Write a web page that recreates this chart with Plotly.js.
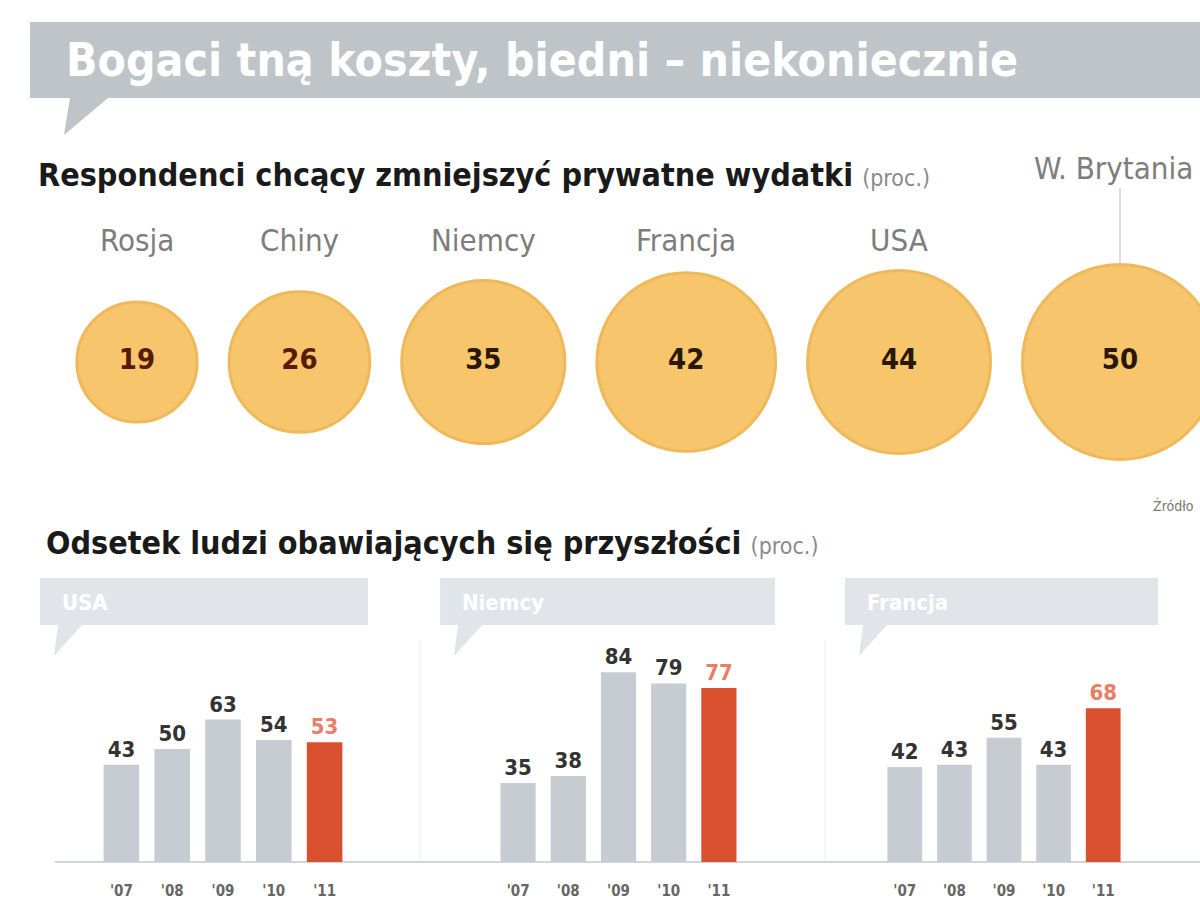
<!DOCTYPE html>
<html>
<head>
<meta charset="utf-8">
<script src="https://cdn.plot.ly/plotly-3.0.1.min.js"></script>
<style>
  html, body { margin: 0; padding: 0; background: #fff; overflow: hidden; }
  #chart { width: 1200px; height: 923px; }
</style>
</head>
<body>
<div id="chart"></div>
<script>
// top row: share of people who want to cut private spending (%)
const countries = ['Rosja', 'Chiny', 'Niemcy', 'Francja', 'USA', 'W. Brytania'];
const cutSpending = [19, 26, 35, 42, 44, 50];

// bottom row: share of people worried about the future (%)
const years = ["'07", "'08", "'09", "'10", "'11"];
const groupNames = ['USA', 'Niemcy', 'Francja'];
const fearA = [43, 50, 63, 54, 53];
const fearB = [35, 38, 84, 79, 77];
const fearC = [42, 43, 55, 43, 68];

const W = 1200, H = 923;
const px = x => x / W;
const py = y => 1 - y / H;
const poly = pts => 'M ' + pts.map(p => px(p[0]).toFixed(4) + ' ' + py(p[1]).toFixed(4)).join(' L ') + ' Z';

const NARROW = "'Liberation Sans Narrow', 'DejaVu Sans Condensed', 'Liberation Sans', sans-serif";
const GRAY_BAR = '#c6ccd2';
const RED_BAR = '#d9502f';

// bubbles sized by area (biggest one ~195px across), laid out with a fixed gap
const s0 = 50 / (195 * 195);
const diam = v => Math.sqrt(v / s0);
const bubbleX = [];
cutSpending.forEach((v, i) => {
  if (i === 0) bubbleX.push(137);
  else bubbleX.push(bubbleX[i - 1] + diam(cutSpending[i - 1]) / 2 + diam(v) / 2 + 32);
});

const traces = [{
  type: 'scatter',
  mode: 'markers+text',
  x: bubbleX,
  y: cutSpending.map(() => 0.5),
  text: cutSpending.map(String),
  textposition: 'middle center',
  textfont: { family: NARROW, size: 29, color: cutSpending.map(v => v < 30 ? '#5a1a08' : '#2a1805'), weight: 'bold' },
  marker: { size: cutSpending, sizemode: 'area', sizeref: 2 * s0, color: '#f6c56c', line: { color: '#efb95a', width: 3 }, opacity: 1 },
  cliponaxis: false,
  hoverinfo: 'skip',
  xaxis: 'x', yaxis: 'y'
}];

const groups = [fearA, fearB, fearC];
const barDomains = [[96, 350], [493, 744], [880, 1128]];
groups.forEach((vals, g) => {
  traces.push({
    type: 'bar',
    x: years,
    y: vals,
    text: vals.map(String),
    textposition: 'outside',
    textfont: { family: NARROW, size: 22, weight: 'bold', color: years.map((_, i) => i === years.length - 1 ? '#ea7d66' : '#333') },
    marker: { color: years.map((_, i) => i === years.length - 1 ? RED_BAR : GRAY_BAR) },
    cliponaxis: false,
    hoverinfo: 'skip',
    xaxis: 'x' + (g + 2),
    yaxis: 'y' + (g + 2)
  });
});

const layout = {
  width: W, height: H,
  margin: { l: 0, r: 0, t: 0, b: 0 },
  paper_bgcolor: '#fff', plot_bgcolor: 'rgba(0,0,0,0)',
  showlegend: false,
  bargap: 0.3,
  font: { family: NARROW },
  xaxis: { domain: [0, 1], range: [0, W], visible: false, fixedrange: true },
  yaxis: { domain: [py(480), py(244)], range: [0, 1], visible: false, fixedrange: true },
  shapes: [],
  annotations: []
};

barDomains.forEach((d, g) => {
  const n = g + 2;
  layout['xaxis' + n] = {
    type: 'category',
    domain: [px(d[0]), px(d[1])], anchor: 'y' + n,
    showline: false, showgrid: false, zeroline: false, ticks: '',
    ticklabelstandoff: 18,
    tickfont: { family: NARROW, size: 15, color: '#666', weight: 'bold' }
  };
  layout['yaxis' + n] = {
    domain: [py(862), py(636)], anchor: 'x' + n, range: [0, 100],
    visible: false
  };
});

// title banner with speech tail
layout.shapes.push({
  type: 'path', xref: 'paper', yref: 'paper', layer: 'below',
  path: poly([[30, 22], [1200, 22], [1200, 98], [108, 98], [64, 135], [70, 98], [30, 98]]),
  fillcolor: '#bfc4c9', line: { width: 0 }
});

// group header bubbles
const headerBoxes = [[40, 368], [440, 775], [845, 1158]];
headerBoxes.forEach(b => {
  layout.shapes.push({
    type: 'path', xref: 'paper', yref: 'paper', layer: 'below',
    path: poly([[b[0], 578], [b[1], 578], [b[1], 625], [b[0] + 42, 625], [b[0] + 14, 656], [b[0] + 18, 625], [b[0], 625]]),
    fillcolor: '#e1e5e9', line: { width: 0 }
  });
});

// faint separators between groups
[420, 825].forEach(x => {
  layout.shapes.push({
    type: 'line', xref: 'paper', yref: 'paper', layer: 'below',
    x0: px(x), x1: px(x), y0: py(862), y1: py(640),
    line: { color: '#eeeeee', width: 1 }
  });
});

// baseline
layout.shapes.push({
  type: 'line', xref: 'paper', yref: 'paper', layer: 'below',
  x0: px(55), x1: 1, y0: py(862), y1: py(862),
  line: { color: '#d3d6d9', width: 2 }
});

// leader line for the last bubble label
const last = countries.length - 1;
layout.shapes.push({
  type: 'line', xref: 'x', yref: 'paper',
  x0: bubbleX[last], x1: bubbleX[last], y0: py(188), y1: py(266),
  line: { color: '#bbbbbb', width: 1 }
});

// country labels
countries.forEach((c, i) => {
  const isLast = i === last;
  layout.annotations.push({
    text: c, xref: 'x', yref: 'paper',
    x: isLast ? bubbleX[i] - 88 : bubbleX[i],
    y: py(isLast ? 168 : 240),
    xanchor: isLast ? 'left' : 'center', yanchor: 'middle',
    showarrow: false,
    font: { family: NARROW, size: 31, color: '#7d7d7d' }
  });
});

// title
layout.annotations.push({
  text: 'Bogaci tną koszty, biedni – niekoniecznie',
  xref: 'paper', yref: 'paper', x: px(64), y: py(60),
  xanchor: 'left', yanchor: 'middle', showarrow: false,
  font: { family: NARROW, size: 46, color: '#ffffff', weight: 'bold' }
});

// section headings
layout.annotations.push({
  text: '<b>Respondenci chcący zmniejszyć prywatne wydatki</b> <span style="color:#8a8a8a;font-size:23px">(proc.)</span>',
  xref: 'paper', yref: 'paper', x: px(36), y: py(175),
  xanchor: 'left', yanchor: 'middle', showarrow: false,
  font: { family: NARROW, size: 32, color: '#1a1a1a' }
});
layout.annotations.push({
  text: '<b>Odsetek ludzi obawiających się przyszłości</b> <span style="color:#8a8a8a;font-size:23px">(proc.)</span>',
  xref: 'paper', yref: 'paper', x: px(44), y: py(543),
  xanchor: 'left', yanchor: 'middle', showarrow: false,
  font: { family: NARROW, size: 32, color: '#1a1a1a' }
});

// group header names
groupNames.forEach((name, g) => {
  layout.annotations.push({
    text: name, xref: 'paper', yref: 'paper',
    x: px(headerBoxes[g][0] + 20), y: py(602),
    xanchor: 'left', yanchor: 'middle', showarrow: false,
    font: { family: NARROW, size: 22, color: '#ffffff', weight: 'bold' }
  });
});

// source note at the right edge
layout.annotations.push({
  text: 'Źródło', xref: 'paper', yref: 'paper', x: px(1196), y: py(505),
  xanchor: 'right', yanchor: 'middle', showarrow: false,
  font: { family: NARROW, size: 14, color: '#777' }
});

Plotly.newPlot('chart', traces, layout, { staticPlot: true, displayModeBar: false });
</script>
</body>
</html>
